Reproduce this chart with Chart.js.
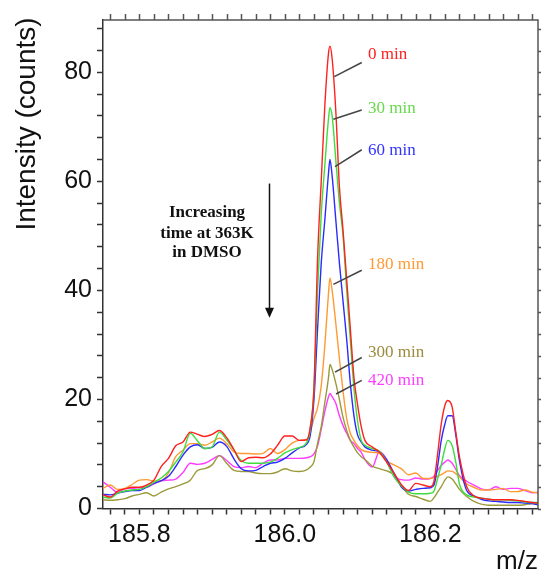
<!DOCTYPE html>
<html lang="en">
<head>
<meta charset="UTF-8">
<title>Intensity vs m/z</title>
<style>
  html, body { margin: 0; padding: 0; background: #fff; }
  canvas { display: block; }
</style>
</head>
<body>
<canvas id="chart" width="541" height="574"></canvas>
<script src="https://cdn.jsdelivr.net/npm/chart.js"></script>
<script>
// m/z grid (denser around the two peaks)
const mz = [185.75,185.76,185.77,185.78,185.79,185.80,185.81,185.82,185.83,185.84,185.85,185.86,185.87,185.88,185.89,
  185.90,185.91,185.92,185.93,185.94,185.95,185.96,185.97,185.98,185.99,186.00,186.01,186.02,186.03,
  186.035,186.04,186.045,186.05,186.055,186.06,186.062,186.065,186.07,186.075,186.08,186.085,186.09,186.095,186.10,186.105,186.11,
  186.12,186.13,186.14,186.15,186.16,186.17,186.18,186.19,186.20,
  186.205,186.21,186.215,186.22,186.224,186.23,186.235,186.24,
  186.25,186.26,186.27,186.28,186.29,186.30,186.31,186.32,186.33,186.34,186.35];

const min0 = [2.5,2.1,3.2,3.6,3.9,3.9,4.3,5.2,7.7,9.2,11.5,12.2,14.0,13.6,13.2,13.6,14.3,13.0,10.8,8.6,9.3,9.4,9.3,10.0,11.6,13.3,13.3,12.5,12.6,
  15,22,46,60,74,83.5,84.8,82.5,73,59,51,42,33,24,19,15,12.5,
  11.3,10.3,8.5,6.5,4.4,3.3,4.6,4.3,4.0,
  5.0,10.0,15.5,18.9,19.8,18.6,14.0,9.5,
  4.0,2.3,1.9,1.7,1.6,1.6,1.6,1.5,1.3,1.1,1.0];

const min30 = [2.1,1.9,2.8,3.2,3.4,3.5,4.0,4.8,5.6,6.8,8.5,10.4,13.8,12.4,11.0,11.3,14.0,12.6,10.7,8.8,8.3,8.3,8.3,8.5,9.2,10.2,10.8,11.2,12.1,
  14.5,22,40,54,63,71.5,73.5,72,64,56,50,40,31,22,16,12.5,11.6,
  11.0,10.5,8.5,5.8,4.2,3.0,2.7,2.7,2.8,
  3.2,5.5,8.0,11.0,12.5,11.5,8.5,4.5,
  2.5,2.1,1.9,1.7,1.6,1.6,1.5,1.4,1.2,1.1,1.1];

const min60 = [2.6,2.5,2.8,3.1,3.3,3.3,3.9,4.6,5.1,5.9,7.7,9.8,11.3,11.7,11.0,11.2,12.2,11.4,9.1,7.3,6.9,7.0,7.7,8.3,8.5,9.2,10.2,11.1,11.8,
  13.5,20,33,45,53,61.5,64,61,53,45,38,31,23,17,13.5,12.2,11.3,
  10.7,10.4,8.9,6.5,4.0,3.2,3.5,3.7,3.8,
  4.3,7.8,12.5,15.5,17.0,17.0,13.5,8.8,
  3.3,2.3,1.7,1.4,1.3,1.2,1.1,1.1,1.0,0.9,0.6];

const min180 = [3.7,4.3,3.5,3.7,4.4,5.2,5.3,5.0,5.1,6.5,9.5,10.7,11.9,11.9,11.6,12.2,12.9,11.9,10.4,10.1,10.1,10.0,10.1,11.0,10.1,10.8,12.0,12.5,12.6,
  14,16.5,18.5,22.5,30,39.5,42.3,40,34,27.5,21.5,16.5,13.8,12.5,11.5,10.8,10.5,
  10.3,10.1,8.7,8.0,7.3,6.2,6.5,5.5,5.5,
  5.7,5.9,6.2,6.6,6.9,6.8,6.4,5.8,
  4.5,3.9,3.4,3.4,3.5,3.7,3.1,3.1,3.4,3.0,2.8];

const min300 = [1.6,1.5,1.6,1.8,2.3,2.6,2.9,2.3,3.0,3.6,4.0,4.5,5.2,7.0,7.3,8.0,9.7,8.3,7.0,6.8,6.8,6.5,6.4,6.4,6.7,7.3,6.9,6.8,7.1,
  7.6,8.6,12,15,19.5,24,26.4,25.5,23,20,16.7,14.3,12.5,11.3,10.2,9.5,9.0,
  7.8,7.3,6.9,6.2,4.3,2.6,2.2,1.7,1.3,
  2.0,3.0,4.0,5.2,5.8,5.4,4.5,3.5,
  2.2,1.3,0.8,0.6,0.6,0.6,0.6,0.6,0.7,0.9,1.0];

const min420 = [4.9,3.9,3.0,3.6,3.7,3.8,3.9,4.5,5.1,5.2,5.4,6.6,8.3,8.1,8.3,9.0,9.7,8.8,7.7,7.5,7.7,7.5,8.3,8.9,8.9,9.2,9.2,9.2,9.3,
  9.5,10.0,11.5,14.5,17.8,20.5,21.1,20.5,19.3,17.0,15.2,13.8,12.5,11.9,11.0,10.3,9.0,
  7.6,10.4,9.0,6.0,5.3,5.2,5.6,5.4,5.5,
  5.9,7.0,7.9,8.5,8.9,8.3,7.2,6.0,
  5.0,4.3,3.6,3.4,4.0,3.5,3.7,3.7,3.3,2.9,3.0];

const seriesNames = ['0 min', '30 min', '60 min', '180 min', '300 min', '420 min'];
const seriesValues = [min0, min30, min60, min180, min300, min420];
const lineColors = ['#ff2020', '#3fdc3f', '#2b2bff', '#ff9a33', '#9a9a3a', '#ff3cff'];
const textColors = ['#ff2020', '#66d94a', '#3333ff', '#ff9933', '#9c8a3c', '#ff3cff'];

// label leader lines: [x1, y1, x2, y2, textY] in data units
const callouts = [
  [186.068, 79.2, 186.1057, 81.8, 83.2],
  [186.0667, 71.4, 186.1057, 73.1, 73.3],
  [186.069, 62.7, 186.1057, 65.8, 65.7],
  [186.0667, 41.1, 186.1057, 43.7, 44.8],
  [186.069, 25.0, 186.1057, 27.7, 28.6],
  [186.0704, 21.0, 186.1057, 23.5, 23.5]
];
const calloutTextX = 186.1144;

const noteLines = ['Increasing', 'time at 363K', 'in DMSO'];

const decor = {
  id: 'decor',
  afterDraw(chart) {
    const { ctx, chartArea: a, scales: { x, y } } = chart;
    ctx.save();

    // top and right frame, ticks pointing out
    ctx.strokeStyle = '#555';
    ctx.lineWidth = 1.5;
    ctx.beginPath();
    ctx.moveTo(a.left, a.top);
    ctx.lineTo(a.right, a.top);
    ctx.lineTo(a.right, a.bottom);
    x.ticks.forEach(t => {
      const px = Math.round(x.getPixelForValue(t.value)) + 0.5;
      ctx.moveTo(px, a.top);
      ctx.lineTo(px, a.top - 6);
    });
    y.ticks.forEach(t => {
      const py = Math.round(y.getPixelForValue(t.value)) + 0.5;
      ctx.moveTo(a.right, py);
      ctx.lineTo(a.right + 6, py);
    });
    ctx.stroke();

    // callouts
    ctx.font = '17px "Liberation Serif", "Times New Roman", serif';
    ctx.textBaseline = 'middle';
    ctx.textAlign = 'left';
    callouts.forEach((c, i) => {
      ctx.strokeStyle = '#444';
      ctx.lineWidth = 1.5;
      ctx.beginPath();
      ctx.moveTo(x.getPixelForValue(c[0]), y.getPixelForValue(c[1]));
      ctx.lineTo(x.getPixelForValue(c[2]), y.getPixelForValue(c[3]));
      ctx.stroke();
      ctx.fillStyle = textColors[i];
      ctx.fillText(seriesNames[i], x.getPixelForValue(calloutTextX), y.getPixelForValue(c[4]));
    });

    // note + arrow
    ctx.fillStyle = '#111';
    ctx.font = 'bold 17px "Liberation Serif", "Times New Roman", serif';
    ctx.textAlign = 'center';
    const nx = x.getPixelForValue(185.893);
    [54.2, 50.5, 47.0].forEach((v, i) => ctx.fillText(noteLines[i], nx, y.getPixelForValue(v)));

    const ax = Math.round(x.getPixelForValue(185.978)) + 0.5;
    const top = y.getPixelForValue(59.6), tip = y.getPixelForValue(35.0);
    ctx.strokeStyle = '#111';
    ctx.lineWidth = 1.5;
    ctx.beginPath();
    ctx.moveTo(ax, top);
    ctx.lineTo(ax, tip - 8);
    ctx.stroke();
    ctx.beginPath();
    ctx.moveTo(ax - 4.5, tip - 10);
    ctx.lineTo(ax + 4.5, tip - 10);
    ctx.lineTo(ax, tip);
    ctx.closePath();
    ctx.fill();

    // axis titles
    ctx.fillStyle = '#111';
    ctx.font = '28px "Liberation Sans", Arial, sans-serif';
    ctx.textAlign = 'center';
    ctx.translate(27, 124);
    ctx.rotate(-Math.PI / 2);
    ctx.fillText('Intensity (counts)', 0, 0);
    ctx.setTransform(1, 0, 0, 1, 0, 0);
    ctx.font = '26px "Liberation Sans", Arial, sans-serif';
    ctx.textAlign = 'right';
    ctx.fillText('m/z', 538, 562);

    ctx.restore();
  }
};

new Chart(document.getElementById('chart').getContext('2d'), {
  type: 'line',
  data: {
    datasets: seriesNames.map((name, i) => ({
      label: name,
      data: mz.map((v, j) => ({ x: v, y: seriesValues[i][j] })),
      borderColor: lineColors[i],
      borderWidth: 1.4,
      pointRadius: 0,
      fill: false,
      cubicInterpolationMode: 'monotone',
      order: i
    }))
  },
  options: {
    responsive: false,
    animation: false,
    devicePixelRatio: 1,
    layout: { padding: { top: 18, right: 3, left: 0, bottom: 0 } },
    plugins: { legend: { display: false }, tooltip: { enabled: false } },
    scales: {
      x: {
        type: 'linear',
        min: 185.75,
        max: 186.348,
        afterFit: s => { s.height = 65.5; },
        border: { display: true, color: '#333', width: 1.5 },
        grid: { display: true, drawOnChartArea: false, drawTicks: true, tickLength: 6, tickColor: '#333', tickWidth: 1.5 },
        ticks: {
          stepSize: 0.02,
          autoSkip: false,
          maxRotation: 0,
          includeBounds: false,
          padding: 6,
          color: '#111',
          font: { family: '"Liberation Sans", Arial, sans-serif', size: 25 },
          callback: v => Math.abs(v * 5 - Math.round(v * 5)) < 1e-6 ? v.toFixed(1) : ''
        }
      },
      y: {
        min: 0,
        max: 89.6,
        afterFit: s => { s.width = 103; },
        border: { display: true, color: '#333', width: 1.5 },
        grid: { display: true, drawOnChartArea: false, drawTicks: true, tickLength: 6, tickColor: '#333', tickWidth: 1.5 },
        ticks: {
          stepSize: 4,
          autoSkip: false,
          includeBounds: false,
          padding: 5,
          color: '#111',
          font: { family: '"Liberation Sans", Arial, sans-serif', size: 25 },
          callback: v => v % 20 === 0 ? v : ''
        }
      }
    }
  },
  plugins: [decor]
});
</script>
</body>
</html>
